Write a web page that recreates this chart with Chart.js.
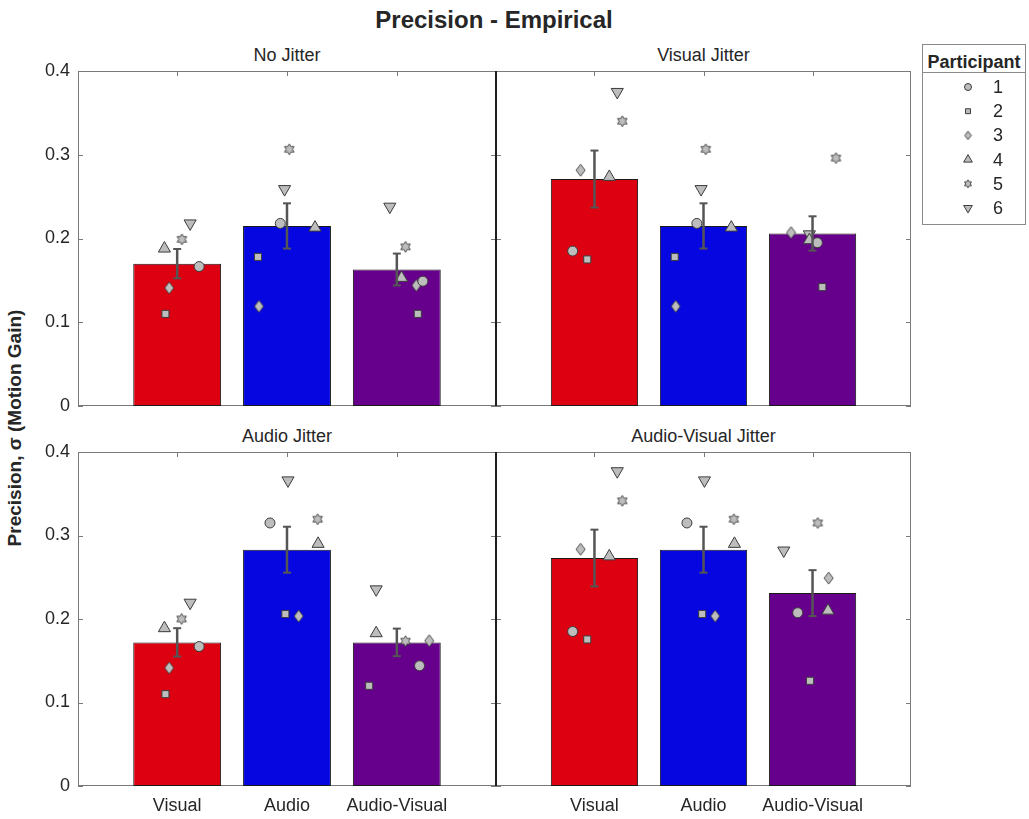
<!DOCTYPE html>
<html>
<head>
<meta charset="utf-8">
<script src="https://cdn.jsdelivr.net/npm/chart.js@4.4.0/dist/chart.umd.min.js"></script>
<style>
  body { margin: 0; background: #fff; font-family: "Liberation Sans", Arial, sans-serif; color: #262626; }
  #fig { position: relative; width: 1029px; height: 819px; overflow: hidden; }
  #fig canvas.panel { position: absolute; left: 0; top: 0; }
  .txt { position: absolute; white-space: nowrap; line-height: 1; }
  #legend { position: absolute; left: 922px; top: 44px; width: 104px; height: 181px; border: 1px solid #8a8a8a; box-sizing: border-box; background: #fff; }
  #legend .head { position: absolute; left: 0; width: 100%; top: 8px; text-align: center; font-weight: bold; font-size: 18px; line-height: 1; }
  #legend .sep { position: absolute; left: 0; width: 100%; top: 27px; border-top: 1px solid #8a8a8a; }
  #legend .num { position: absolute; left: 66px; width: 18px; text-align: center; font-size: 18px; line-height: 1; }
  #legend canvas { position: absolute; left: 0; top: 0; }
</style>
</head>
<body>
<div id="fig">
  <div class="txt" style="left:0;width:988px;top:8px;text-align:center;font-weight:bold;font-size:24px;">Precision - Empirical</div>
  <div class="txt" id="t0" style="font-size:18px;"></div>
  <div class="txt" id="t1" style="font-size:18px;"></div>
  <div class="txt" id="t2" style="font-size:18px;"></div>
  <div class="txt" id="t3" style="font-size:18px;"></div>
  <div class="txt" style="left:14px;top:428px;transform:translate(-50%,-50%) rotate(-90deg);font-weight:bold;font-size:19px;">Precision, σ (Motion Gain)</div>
  <canvas class="panel" id="c0" width="1029" height="819"></canvas>
  <canvas class="panel" id="c1" width="1029" height="819"></canvas>
  <canvas class="panel" id="c2" width="1029" height="819"></canvas>
  <canvas class="panel" id="c3" width="1029" height="819"></canvas>
  <div id="legend"><div class="head">Participant</div><div class="sep"></div></div>
</div>
<script>
const conditions = ['Visual', 'Audio', 'Audio-Visual'];
const panelTitles = ['No Jitter', 'Visual Jitter', 'Audio Jitter', 'Audio-Visual Jitter'];
const participants = ['1', '2', '3', '4', '5', '6'];
const yTicks = [0, 0.1, 0.2, 0.3, 0.4];

// bar heights and standard errors, [Visual, Audio, Audio-Visual]
const meanNoJitter = [0.170, 0.215, 0.163];
const meanVisualJitter = [0.271, 0.215, 0.206];
const meanAudioJitter = [0.172, 0.283, 0.172];
const meanAVJitter = [0.273, 0.283, 0.231];

const seNoJitter = [0.0175, 0.027, 0.019];
const seVisualJitter = [0.034, 0.027, 0.0205];
const seAudioJitter = [0.017, 0.0275, 0.0165];
const seAVJitter = [0.034, 0.0275, 0.0275];

// participant values, one row per participant
const ptsNoJitter = [
  [0.1665, 0.218, 0.149],
  [0.110, 0.178, 0.110],
  [0.141, 0.119, 0.144],
  [0.188, 0.213, 0.153],
  [0.199, 0.3065, 0.190],
  [0.218, 0.259, 0.238]
];
const ptsVisualJitter = [
  [0.185, 0.218, 0.195],
  [0.175, 0.178, 0.142],
  [0.2815, 0.119, 0.207],
  [0.2735, 0.213, 0.198],
  [0.340, 0.3065, 0.296],
  [0.375, 0.259, 0.205]
];
const ptsAudioJitter = [
  [0.167, 0.315, 0.144],
  [0.110, 0.206, 0.120],
  [0.1415, 0.2035, 0.174],
  [0.189, 0.290, 0.183],
  [0.200, 0.3195, 0.1735],
  [0.2195, 0.366, 0.2355]
];
const ptsAVJitter = [
  [0.185, 0.315, 0.2075],
  [0.1755, 0.206, 0.126],
  [0.2835, 0.2035, 0.249],
  [0.275, 0.290, 0.210],
  [0.3415, 0.3195, 0.315],
  [0.377, 0.366, 0.282]
];

// horizontal scatter of the participant markers (category units)
const jitNoJitter = [
  [0.20, -0.061, 0.237],
  [-0.107, -0.264, 0.191],
  [-0.073, -0.255, 0.177],
  [-0.116, 0.255, 0.043],
  [0.043, 0.021, 0.079],
  [0.118, -0.022, -0.064]
];
const jitVisualJitter = [
  [-0.20, -0.061, 0.044],
  [-0.066, -0.264, 0.09],
  [-0.127, -0.255, -0.197],
  [0.136, 0.255, -0.029],
  [0.255, 0.021, 0.215],
  [0.209, -0.022, -0.029]
];
const jitAudioJitter = [
  [0.20, -0.155, 0.207],
  [-0.107, -0.015, -0.252],
  [-0.073, 0.106, 0.295],
  [-0.116, 0.283, -0.188],
  [0.04, 0.279, 0.079],
  [0.118, 0.009, -0.188]
];
const jitAVJitter = [
  [-0.20, -0.152, -0.136],
  [-0.066, -0.012, -0.023],
  [-0.127, 0.107, 0.148],
  [0.136, 0.284, 0.142],
  [0.255, 0.278, 0.048],
  [0.209, 0.009, -0.264]
];

const W = 1029, H = 819;
const barColors = ['#dd0010', '#0606e0', '#66008c'];
const markerFill = '#bdbdbd';
const markerEdge = '#3c3c3c';

Chart.defaults.font.family = '"Liberation Sans", Arial, sans-serif';
Chart.defaults.font.size = 18;
Chart.defaults.color = '#262626';

function markerCanvas(w, h, pathFn) {
  const c = document.createElement('canvas');
  c.width = Math.ceil(w + 2); c.height = Math.ceil(h + 2);
  const g = c.getContext('2d');
  g.beginPath();
  pathFn(g, c.width / 2, c.height / 2);
  g.closePath();
  g.fillStyle = markerFill;
  g.fill();
  g.lineWidth = 0.9;
  g.strokeStyle = markerEdge;
  g.stroke();
  return c;
}

// six-pointed star marker
function hexagram(size) {
  const r = size / 2;
  return markerCanvas(size, size, (g, cx, cy) => {
    for (let k = 0; k < 12; k++) {
      const a = -Math.PI / 2 + k * Math.PI / 6;
      const rr = k % 2 ? r * 0.58 : r;
      const px = cx + Math.cos(a) * rr, py = cy + Math.sin(a) * rr;
      if (k === 0) g.moveTo(px, py); else g.lineTo(px, py);
    }
  });
}

// tall diamond marker
function diamond(w, h) {
  return markerCanvas(w, h, (g, cx, cy) => {
    g.moveTo(cx, cy - h / 2);
    g.lineTo(cx + w / 2, cy);
    g.lineTo(cx, cy + h / 2);
    g.lineTo(cx - w / 2, cy);
  });
}

const starBig = hexagram(11);
const starSmall = hexagram(8);
const diamondBig = diamond(9, 12);
const diamondSmall = diamond(6.5, 8.5);
const markerStyles = ['circle', 'rect', diamondBig, 'triangle', starBig, 'triangle'];
const markerRadius = [5, 5, 5, 7, 5, 7];
const markerRotation = [0, 0, 0, 0, 0, 180];

const panelData = [
  { mean: meanNoJitter, se: seNoJitter, pts: ptsNoJitter, jit: jitNoJitter },
  { mean: meanVisualJitter, se: seVisualJitter, pts: ptsVisualJitter, jit: jitVisualJitter },
  { mean: meanAudioJitter, se: seAudioJitter, pts: ptsAudioJitter, jit: jitAudioJitter },
  { mean: meanAVJitter, se: seAVJitter, pts: ptsAVJitter, jit: jitAVJitter }
];
const panelBoxes = [
  { left: 78, right: 496, top: 71, bottom: 406, yLabels: true, xLabels: false },
  { left: 496, right: 911, top: 71, bottom: 406, yLabels: false, xLabels: false },
  { left: 78, right: 496, top: 452, bottom: 786, yLabels: true, xLabels: true },
  { left: 496, right: 911, top: 452, bottom: 786, yLabels: false, xLabels: true }
];
const yAxisWidth = 48, xAxisHeight = 33;

function line(ctx, x1, y1, x2, y2) {
  ctx.beginPath(); ctx.moveTo(x1, y1); ctx.lineTo(x2, y2); ctx.stroke();
}

// box round the axes plus inward ticks, under the bars
const framePlugin = {
  id: 'frame',
  beforeDatasetsDraw(chart, args, opts) {
    const { ctx, chartArea: a, scales: { x, y } } = chart;
    ctx.save();
    ctx.lineWidth = 1;
    ctx.strokeStyle = '#7a7a7a';
    yTicks.forEach(v => {
      const py = Math.round(y.getPixelForValue(v)) + 0.5;
      line(ctx, a.left, py, a.left + 5, py);
      line(ctx, a.right - 5, py, a.right, py);
    });
    [1, 2, 3].forEach(v => {
      const px = Math.round(x.getPixelForValue(v)) + 0.5;
      line(ctx, px, a.top, px, a.top + 5);
      line(ctx, px, a.bottom - 5, px, a.bottom);
    });
    line(ctx, a.left, a.top + 0.5, a.right, a.top + 0.5);
    line(ctx, a.left, a.bottom - 0.5, a.right, a.bottom - 0.5);
    ctx.strokeStyle = opts.leftDark ? '#1e1e1e' : '#7a7a7a';
    line(ctx, a.left + 0.5, a.top, a.left + 0.5, a.bottom);
    ctx.strokeStyle = opts.rightDark ? '#1e1e1e' : '#7a7a7a';
    line(ctx, a.right - 0.5, a.top, a.right - 0.5, a.bottom);
    ctx.restore();
  }
};

// standard error bars (upper and lower halves)
const errPlugin = {
  id: 'errbars',
  afterDatasetsDraw(chart, args, opts) {
    const { ctx, scales: { x, y } } = chart;
    ctx.save();
    ctx.strokeStyle = '#555555';
    opts.mean.forEach((m, i) => {
      const px = x.getPixelForValue(i + 1);
      const top = y.getPixelForValue(m + opts.se[i]);
      const bot = y.getPixelForValue(m - opts.se[i]);
      ctx.lineWidth = 2.5;
      line(ctx, px, top, px, bot);
      ctx.lineWidth = 2;
      line(ctx, px - 4, top, px + 4, top);
      line(ctx, px - 4, bot, px + 4, bot);
    });
    ctx.restore();
  }
};

function makePanel(k) {
  const d = panelData[k];
  const b = panelBoxes[k];

  const t = document.getElementById('t' + k);
  t.textContent = panelTitles[k];
  t.style.left = b.left + 'px';
  t.style.width = (b.right - b.left) + 'px';
  t.style.textAlign = 'center';
  t.style.top = (b.top - 25) + 'px';

  const datasets = [{
    type: 'bar',
    data: conditions.map((c, i) => ({ x: i + 1, y: d.mean[i] })),
    backgroundColor: barColors,
    borderColor: '#1a1a1a',
    borderWidth: 1,
    borderSkipped: false,
    barPercentage: 0.8,
    categoryPercentage: 1.0,
    order: 10
  }];
  participants.forEach((p, j) => {
    datasets.push({
      type: 'scatter',
      label: p,
      data: conditions.map((c, i) => ({ x: i + 1 + d.jit[j][i], y: d.pts[j][i] })),
      pointStyle: markerStyles[j],
      pointRadius: markerRadius[j],
      pointRotation: markerRotation[j],
      pointBackgroundColor: markerFill,
      pointBorderColor: markerEdge,
      pointBorderWidth: 1,
      order: j
    });
  });

  new Chart(document.getElementById('c' + k), {
    type: 'bar',
    data: { datasets },
    options: {
      responsive: false,
      animation: false,
      devicePixelRatio: 1,
      events: [],
      layout: {
        autoPadding: false,
        padding: {
          left: b.left - (b.yLabels ? yAxisWidth : 0),
          right: W - b.right,
          top: b.top,
          bottom: H - b.bottom - (b.xLabels ? xAxisHeight : 0)
        }
      },
      plugins: {
        legend: { display: false },
        tooltip: { enabled: false },
        frame: { leftDark: k % 2 === 1, rightDark: k % 2 === 0 },
        errbars: { mean: d.mean, se: d.se }
      },
      scales: {
        x: {
          type: 'linear',
          min: 0.097,
          max: 3.903,
          offset: false,
          display: b.xLabels,
          grid: { display: false, drawTicks: false },
          border: { display: false },
          afterBuildTicks: s => { s.ticks = [1, 2, 3].map(v => ({ value: v })); },
          afterFit: s => { s.height = b.xLabels ? xAxisHeight : 0; },
          ticks: {
            padding: 9,
            autoSkip: false,
            maxRotation: 0,
            color: '#262626',
            font: { size: 18 },
            callback: v => conditions[Math.round(v) - 1]
          }
        },
        y: {
          type: 'linear',
          min: 0,
          max: 0.4,
          display: b.yLabels,
          grid: { display: false, drawTicks: false },
          border: { display: false },
          afterBuildTicks: s => { s.ticks = yTicks.map(v => ({ value: v })); },
          afterFit: s => { s.width = b.yLabels ? yAxisWidth : 0; },
          ticks: {
            padding: 8,
            color: '#262626',
            font: { size: 18 },
            callback: v => (v === 0 ? '0' : v.toFixed(1))
          }
        }
      }
    },
    plugins: [framePlugin, errPlugin]
  });
}

[0, 1, 2, 3].forEach(makePanel);

// legend box
(function () {
  const lg = document.getElementById('legend');
  const cv = document.createElement('canvas');
  cv.width = 102; cv.height = 179;
  lg.appendChild(cv);
  const ctx = cv.getContext('2d');
  const legStyles = ['circle', 'rect', diamondSmall, 'triangle', starSmall, 'triangle'];
  const legRadius = [3.5, 3.5, 4, 5, 4, 5];
  participants.forEach((p, j) => {
    const cy = 42 + j * 24.2;
    ctx.fillStyle = markerFill;
    ctx.strokeStyle = markerEdge;
    ctx.lineWidth = 1;
    Chart.helpers.drawPoint(ctx, {
      pointStyle: legStyles[j], radius: legRadius[j], rotation: markerRotation[j], borderWidth: 1
    }, 45, cy);
    const n = document.createElement('div');
    n.className = 'num';
    n.textContent = p;
    n.style.top = (cy - 9) + 'px';
    lg.appendChild(n);
  });
})();
</script>
</body>
</html>
